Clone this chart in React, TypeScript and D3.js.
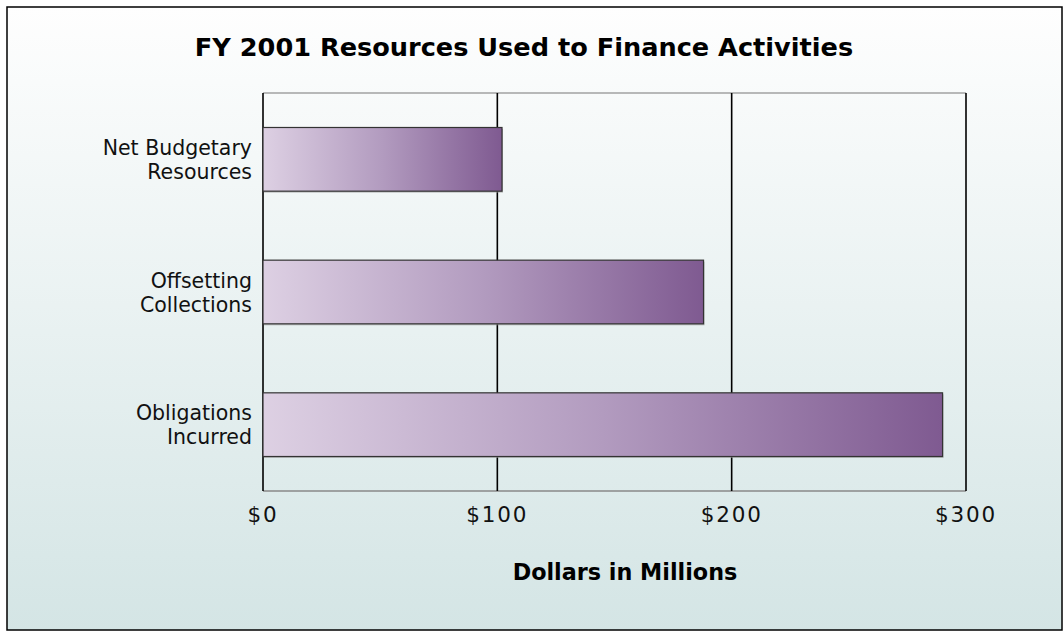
import React from "react";
import * as d3 from "d3";

const categories: string[][] = [
  ["Net Budgetary", "Resources"],
  ["Offsetting", "Collections"],
  ["Obligations", "Incurred"],
];
const values: number[] = [102, 188, 290];
const tickValues: number[] = [0, 100, 200, 300];
const tickLabels: string[] = ["$0", "$100", "$200", "$300"];
const title = "FY 2001 Resources Used to Finance Activities";
const xTitle = "Dollars in Millions";

const W = 1064;
const H = 631;
const plot = { left: 263, right: 966, top: 93, bottom: 491 };

export default function App() {
  const x = d3.scaleLinear().domain([0, 300]).range([plot.left, plot.right]);
  const y = d3
    .scaleBand<number>()
    .domain(d3.range(categories.length))
    .range([plot.top, plot.bottom])
    .paddingInner(0.52)
    .paddingOuter(0.26);
  const labelFont = "'DejaVu Sans', sans-serif";
  const boldFont = "'DejaVu Sans', Verdana, sans-serif";
  return (
    <svg
      width={W}
      height={H}
      style={{ position: "absolute", left: 0, top: 0 }}
      xmlns="http://www.w3.org/2000/svg"
    >
      <defs>
        <linearGradient id="bg" x1="0" y1="0" x2="0" y2="1">
          <stop offset="0" stopColor="#fefefe" />
          <stop offset="1" stopColor="#d4e5e5" />
        </linearGradient>
        <linearGradient id="barg" x1="0" y1="0" x2="1" y2="0">
          <stop offset="0" stopColor="#ddd0e3" />
          <stop offset="0.5" stopColor="#b29bbf" />
          <stop offset="1" stopColor="#7f5a91" />
        </linearGradient>
      </defs>
      <rect x={7} y={7} width={1055} height={623} fill="url(#bg)" stroke="#000" strokeWidth={1.5} />
      <text
        x={524}
        y={56}
        textAnchor="middle"
        fontFamily={boldFont}
        fontWeight="bold"
        fontSize={25.6}
        fill="#000"
      >
        {title}
      </text>
      <line x1={plot.left} x2={plot.right} y1={plot.top} y2={plot.top} stroke="#777" strokeWidth={1.2} />
      <line x1={plot.left} x2={plot.right} y1={plot.bottom} y2={plot.bottom} stroke="#888" strokeWidth={1.5} />
      {tickValues.map((t) => (
        <line
          key={"g" + t}
          x1={x(t)}
          x2={x(t)}
          y1={plot.top}
          y2={plot.bottom}
          stroke="#000"
          strokeWidth={1.6}
        />
      ))}
      {values.map((v, i) => {
        const by = y(i)!;
        const bh = y.bandwidth();
        return (
          <g key={"b" + i}>
            <rect x={x(0) + 1} y={by + 1.5} width={x(v) - x(0)} height={bh} fill="#9a9a9a" opacity={0.6} />
            <rect
              x={x(0)}
              y={by}
              width={x(v) - x(0)}
              height={bh}
              fill="url(#barg)"
              stroke="#333"
              strokeWidth={1.2}
            />
          </g>
        );
      })}
      {categories.map((lines, i) => {
        const cy = y(i)! + y.bandwidth() / 2;
        return lines.map((l, j) => (
          <text
            key={"c" + i + "-" + j}
            x={plot.left - 11}
            y={cy - 4.5 + j * 24}
            textAnchor="end"
            fontFamily={labelFont}
            fontSize={20.5}
            fill="#111"
          >
            {l}
          </text>
        ));
      })}
      {tickValues.map((t, i) => (
        <text
          key={"t" + t}
          x={x(t)}
          y={522}
          textAnchor="middle"
          fontFamily={labelFont}
          fontSize={21.5}
          fill="#111"
          letterSpacing={1.8}
        >
          {tickLabels[i]}
        </text>
      ))}
      <text
        x={625}
        y={580}
        textAnchor="middle"
        fontFamily={boldFont}
        fontWeight="bold"
        fontSize={22.3}
        fill="#000"
      >
        {xTitle}
      </text>
    </svg>
  );
}
